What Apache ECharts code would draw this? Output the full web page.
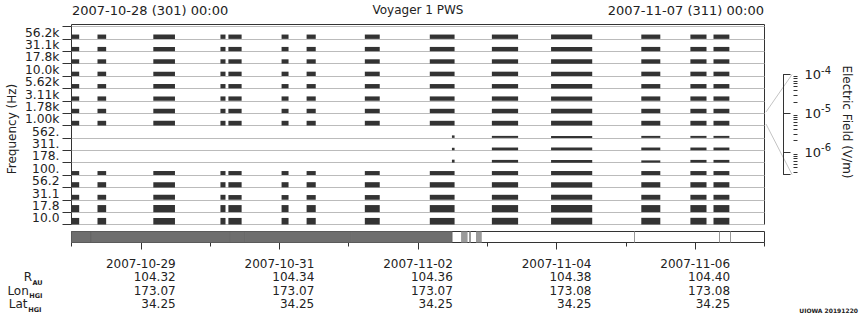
<!DOCTYPE html>
<html><head><meta charset="utf-8">
<script src="https://cdn.jsdelivr.net/npm/echarts@6/dist/echarts.min.js"></script>
<style>html,body{margin:0;padding:0;background:#fff}#c{width:860px;height:320px}</style>
</head><body><div id="c"></div>
<script>
// ---------------- data ----------------
// channel labels, bottom row first
const channels = ['10.0','17.8','31.1','56.2','100.','178.','311.','562.','1.00k','1.78k','3.11k','5.62k','10.0k','17.8k','31.1k','56.2k'];
// data segments (UTC)
const segStart = ['2007-10-28 00:00','2007-10-28 09:00','2007-10-29 04:20','2007-10-30 03:35','2007-10-30 06:20','2007-10-31 00:45','2007-10-31 09:25','2007-11-01 05:35','2007-11-02 04:05','2007-11-02 11:45','2007-11-03 01:35','2007-11-03 22:05','2007-11-05 05:20','2007-11-05 22:20','2007-11-06 06:20'];
const segEnd   = ['2007-10-28 02:40','2007-10-28 12:00','2007-10-29 11:50','2007-10-30 05:20','2007-10-30 10:55','2007-10-31 03:10','2007-10-31 12:35','2007-11-01 10:45','2007-11-02 12:40','2007-11-02 12:40','2007-11-03 10:40','2007-11-04 12:20','2007-11-05 11:55','2007-11-06 03:55','2007-11-06 11:50'];
// signal level per segment and channel (fraction of a channel strip), bottom channel first
const segLevels = [
  [0.53,0.57,0.40,0.42,0.32,0,0,0,0.38,0.35,0.35,0.35,0.35,0.35,0.35,0.35],
  [0.53,0.57,0.40,0.42,0.32,0,0,0,0.38,0.35,0.35,0.35,0.35,0.35,0.35,0.35],
  [0.53,0.57,0.40,0.42,0.32,0,0,0,0.38,0.35,0.35,0.35,0.35,0.35,0.35,0.35],
  [0.53,0.57,0.40,0.42,0.32,0,0,0,0.38,0.35,0.35,0.35,0.35,0.35,0.35,0.35],
  [0.53,0.57,0.38,0.42,0.32,0,0,0,0.38,0.35,0.35,0.35,0.35,0.35,0.35,0.35],
  [0.53,0.57,0.38,0.42,0.32,0,0,0,0.38,0.35,0.35,0.35,0.35,0.35,0.35,0.35],
  [0.53,0.57,0.38,0.42,0.32,0,0,0,0.38,0.35,0.35,0.35,0.35,0.35,0.35,0.35],
  [0.53,0.57,0.38,0.42,0.32,0,0,0,0.38,0.35,0.35,0.35,0.35,0.35,0.35,0.35],
  [0.53,0.57,0.40,0.42,0.32,0,0,0,0.38,0.35,0.35,0.35,0.35,0.35,0.35,0.35],
  [0,0,0,0,0,0.24,0.20,0.20,0,0,0,0,0,0,0,0],
  [0.54,0.57,0.40,0.42,0.32,0.22,0.22,0.16,0.38,0.35,0.35,0.35,0.35,0.35,0.35,0.35],
  [0.54,0.57,0.40,0.42,0.32,0.22,0.22,0.16,0.38,0.35,0.35,0.35,0.35,0.35,0.35,0.35],
  [0.54,0.57,0.40,0.42,0.32,0.18,0.22,0.16,0.38,0.35,0.35,0.35,0.35,0.35,0.35,0.35],
  [0.54,0.57,0.40,0.42,0.32,0.22,0.22,0.16,0.38,0.35,0.35,0.35,0.35,0.35,0.35,0.35],
  [0.54,0.57,0.40,0.42,0.32,0.22,0.22,0.16,0.38,0.35,0.35,0.35,0.35,0.35,0.35,0.35]
];
// coverage strip
const covStart = ['2007-10-28 00:00','2007-10-28 06:45','2007-10-30 06:45','2007-10-30 12:10','2007-11-01 00:55','2007-11-02 14:55','2007-11-02 17:45','2007-11-02 18:10','2007-11-02 20:05','2007-11-05 02:40','2007-11-06 08:10','2007-11-06 11:55'];
const covEnd   = ['2007-10-28 06:45','2007-10-30 06:45','2007-10-30 12:10','2007-11-01 00:55','2007-11-02 11:50','2007-11-02 17:10','2007-11-02 17:45','2007-11-02 18:10','2007-11-02 22:05','2007-11-05 02:40','2007-11-06 08:10','2007-11-06 11:55'];
const covKind  = ['dark','dark','dark','dark','dark','light','edge','edge','light','edge','edge','edge'];
// bottom axis
const axisDays = ['2007-10-28','2007-10-29','2007-10-30','2007-10-31','2007-11-01','2007-11-02','2007-11-03','2007-11-04','2007-11-05','2007-11-06','2007-11-07'];
const tickDates = ['2007-10-29','2007-10-31','2007-11-02','2007-11-04','2007-11-06'];
const rAU    = ['104.32','104.34','104.36','104.38','104.40'];
const lonHGI = ['173.07','173.07','173.07','173.08','173.08'];
const latHGI = ['34.25','34.25','34.25','34.25','34.25'];
// colour bar (V/m)
const cbMin = 2.63e-7, cbMax = 1e-4;
const cbMinorTicks = [3e-7,4e-7,5e-7,6e-7,7e-7,8e-7,9e-7,2e-6,3e-6,4e-6,5e-6,6e-6,7e-6,8e-6,9e-6,2e-5,3e-5,4e-5,5e-5,6e-5,7e-5,8e-5,9e-5];
const tStartLabel = '2007-10-28 (301) 00:00', tEndLabel = '2007-11-07 (311) 00:00';

// ---------------- build ----------------
function T(s){const [d,t]=s.split(' ');const [Y,M,D]=d.split('-').map(Number);const [h,m]=(t||'00:00').split(':').map(Number);return Date.UTC(Y,M-1,D,h,m);}
const t0 = T('2007-10-28 00:00'), t1 = T('2007-11-07 00:00');
const FONT = 'DejaVu Sans';
const TXT = '#222';

const blockData = [];
segStart.forEach((s,i)=>{ segLevels[i].forEach((lv,c)=>{ if(lv>0) blockData.push([T(s),T(segEnd[i]),c,lv]); }); });
const covData = covStart.map((s,i)=>[T(s),T(covEnd[i]),['dark','light','edge'].indexOf(covKind[i])]);

const chart = echarts.init(document.getElementById('c'), null, {renderer:'svg'});
const L = 71.5, W = 693;
chart.setOption({
  animation:false,
  textStyle:{fontFamily:FONT},
  grid:[
    {left:L, top:24.5, width:W, height:200, show:true, borderColor:'#333', borderWidth:1, backgroundColor:'transparent'},
    {left:L, top:26.5, width:W, height:198},
    {left:L, top:231.5, width:W, height:11, show:true, borderColor:'#333', borderWidth:1, backgroundColor:'transparent'},
    {left:783.5, top:74.5, width:10, height:100}
  ],
  xAxis:[
    {gridIndex:0, type:'value', show:false, min:0, max:1},
    {gridIndex:1, type:'value', show:false, min:t0, max:t1},
    {gridIndex:2, type:'value', show:false, min:t0, max:t1},
    {gridIndex:2, type:'category', position:'bottom', data:axisDays, boundaryGap:false,
      axisLine:{show:false}, axisLabel:{show:false}, splitLine:{show:false},
      axisTick:{show:true, interval:0, length:4, lineStyle:{color:'#333'}}},
    {gridIndex:2, type:'category', position:'bottom', data:axisDays, boundaryGap:false,
      axisLine:{show:false}, splitLine:{show:false},
      axisTick:{show:true, length:7, interval:(i,v)=>tickDates.indexOf(v)>=0, lineStyle:{color:'#333'}},
      axisLabel:{show:true, margin:15, interval:(i,v)=>tickDates.indexOf(v)>=0,
        formatter:(v)=>{const k=tickDates.indexOf(v); if(k<0) return ''; return '{d|'+v+'}\n{v|'+rAU[k]+'}\n{v|'+lonHGI[k]+'}\n{v|'+latHGI[k]+'}';},
        rich:{d:{fontSize:12, lineHeight:13.3, color:TXT, fontFamily:FONT, align:'center'}, v:{fontSize:12, lineHeight:13.3, color:TXT, fontFamily:FONT, align:'right'}}}},
    {gridIndex:3, type:'value', show:false, min:0, max:1}
  ],
  yAxis:[
    {gridIndex:0, type:'value', show:false, min:0, max:1},
    {gridIndex:1, type:'category', data:channels, boundaryGap:true,
      axisLine:{show:false},
      axisTick:{show:true, length:9, interval:0, lineStyle:{color:'#333'}},
      splitLine:{show:true, interval:0, lineStyle:{color:'#bbb', width:1}},
      axisLabel:{show:true, interval:0, margin:12, fontSize:12.3, lineHeight:11, color:TXT, fontFamily:FONT, padding:[0,0,3,0]}},
    {gridIndex:1, type:'value', show:false, min:0, max:16},
    {gridIndex:2, type:'value', show:false, min:0, max:1},
    {gridIndex:3, type:'log', logBase:10, min:cbMin, max:cbMax, position:'right',
      axisLine:{show:true, lineStyle:{color:'#333'}},
      axisTick:{show:true, length:7, lineStyle:{color:'#333'}},
      splitLine:{show:false}, minorTick:{show:false},
      axisLabel:{show:true, margin:11, color:TXT,
        formatter:(v)=>{const e=Math.round(Math.log10(v)); if(Math.abs(Math.log10(v)-e)>1e-6) return ''; return '{b|10}{e|'+e+'}';},
        rich:{b:{fontSize:13, color:TXT, fontFamily:FONT}, e:{fontSize:10, color:TXT, fontFamily:FONT, padding:[0,0,9,0]}}}}
  ],
  series:[
    {type:'custom', xAxisIndex:1, yAxisIndex:2, data:blockData, silent:true,
      renderItem:(p,api)=>{const a=api.coord([api.value(0),api.value(2)]); const b=api.coord([api.value(1),api.value(2)+api.value(3)]);
        return {type:'rect', shape:{x:a[0], y:b[1], width:b[0]-a[0], height:a[1]-b[1]}, style:{fill:'#333'}};}},
    {type:'custom', xAxisIndex:2, yAxisIndex:3, data:covData, silent:true,
      renderItem:(p,api)=>{const a=api.coord([api.value(0),0]); const b=api.coord([api.value(1),1]); const k=api.value(2);
        if(k===2) return {type:'line', shape:{x1:Math.round(a[0])+0.5,y1:b[1],x2:Math.round(a[0])+0.5,y2:a[1]}, style:{stroke:'#999', lineWidth:1}};
        return {type:'rect', shape:{x:a[0], y:b[1], width:b[0]-a[0], height:a[1]-b[1]}, style:{fill:k===0?'#6e6e6e':'#9a9a9a', stroke:k===0?'#626262':null, lineWidth:k===0?0.6:0}};}},
    {type:'custom', xAxisIndex:5, yAxisIndex:4, data:cbMinorTicks.map(v=>[1,v]), silent:true,
      renderItem:(p,api)=>{const a=api.coord([1,api.value(1)]); const y=Math.round(a[1])+0.5;
        return {type:'line', shape:{x1:a[0], y1:y, x2:a[0]+4, y2:y}, style:{stroke:'#333', lineWidth:1}};}}
  ],
  graphic:[
    {type:'text', x:418, y:10, style:{text:'Voyager 1 PWS', font:'12px "DejaVu Sans"', fill:TXT, textAlign:'center', textVerticalAlign:'middle'}},
    {type:'text', x:72, y:10, style:{text:tStartLabel, font:'13px "DejaVu Sans"', fill:TXT, textAlign:'left', textVerticalAlign:'middle'}},
    {type:'text', x:764, y:10, style:{text:tEndLabel, font:'13px "DejaVu Sans"', fill:TXT, textAlign:'right', textVerticalAlign:'middle'}},
    {type:'text', x:12, y:129, rotation:Math.PI/2, style:{text:'Frequency (Hz)', font:'12px "DejaVu Sans"', fill:TXT, textAlign:'center', textVerticalAlign:'middle'}},
    {type:'text', x:847, y:122, rotation:-Math.PI/2, style:{text:'Electric Field (V/m)', font:'12px "DejaVu Sans"', fill:TXT, textAlign:'center', textVerticalAlign:'middle'}},
    {type:'line', shape:{x1:766, y1:112, x2:792, y2:74.5}, style:{stroke:'#c4c4c4', lineWidth:1}},
    {type:'line', shape:{x1:766, y1:124, x2:792, y2:174.5}, style:{stroke:'#c4c4c4', lineWidth:1}},
    {type:'text', x:32, y:277.3, style:{text:'R', font:'12px "DejaVu Sans"', fill:TXT, textAlign:'right', textVerticalAlign:'middle'}},
    {type:'text', x:32.5, y:283.3, style:{text:'AU', font:'bold 6.5px "DejaVu Sans"', fill:TXT, textAlign:'left', textVerticalAlign:'middle'}},
    {type:'text', x:28.8, y:290.7, style:{text:'Lon', font:'12px "DejaVu Sans"', fill:TXT, textAlign:'right', textVerticalAlign:'middle'}},
    {type:'text', x:29.3, y:296.3, style:{text:'HGI', font:'bold 6.5px "DejaVu Sans"', fill:TXT, textAlign:'left', textVerticalAlign:'middle'}},
    {type:'text', x:27.5, y:304, style:{text:'Lat', font:'12px "DejaVu Sans"', fill:TXT, textAlign:'right', textVerticalAlign:'middle'}},
    {type:'text', x:28.3, y:309.6, style:{text:'HGI', font:'bold 6.5px "DejaVu Sans"', fill:TXT, textAlign:'left', textVerticalAlign:'middle'}},
    {type:'text', x:858, y:310, style:{text:'UIOWA 20191220', font:'bold 6px "DejaVu Sans"', fill:TXT, textAlign:'right', textVerticalAlign:'middle'}}
  ]
});
</script></body></html>
